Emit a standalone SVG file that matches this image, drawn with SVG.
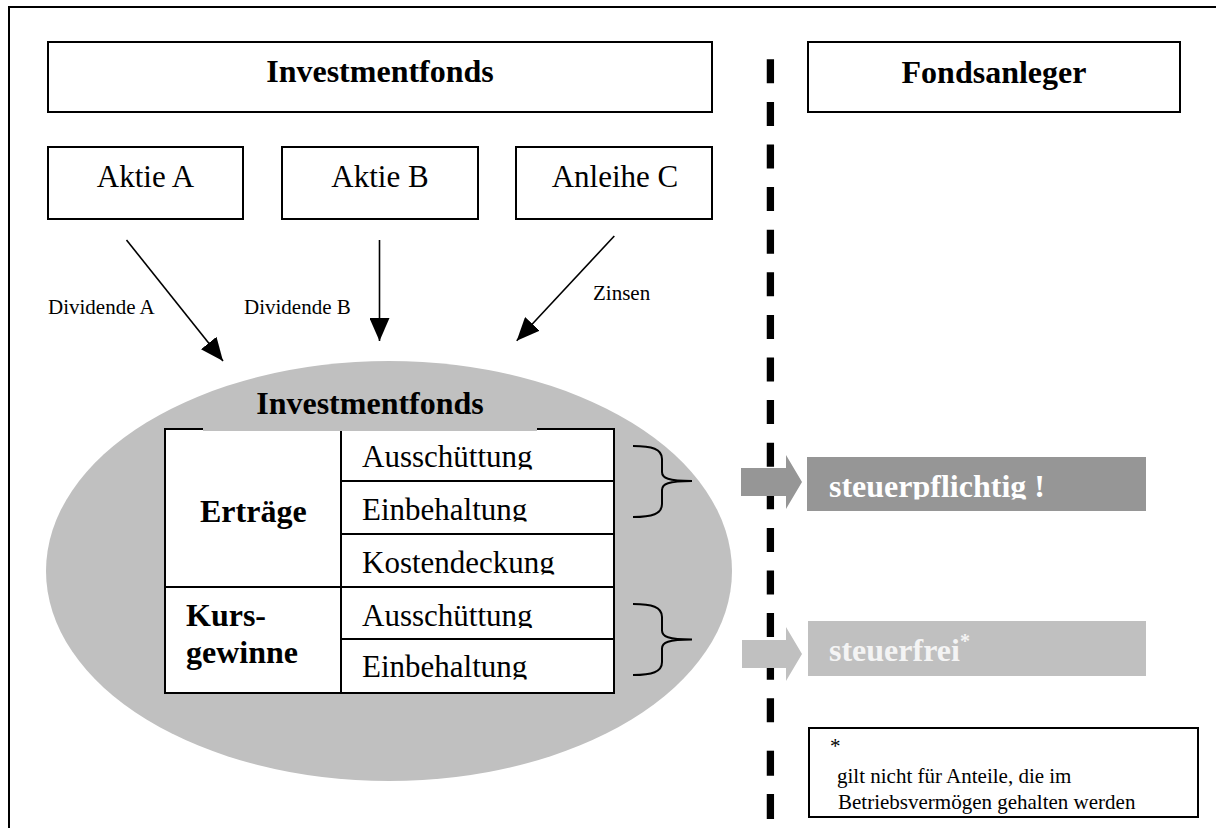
<svg xmlns="http://www.w3.org/2000/svg" width="1216" height="828" viewBox="0 0 1216 828">
<style>
  .box { fill: #ffffff; stroke: #000000; stroke-width: 2; }
  .hd { font-family: "Liberation Serif", "Times New Roman", serif; font-weight: bold; font-size: 32px; fill: #000000; }
  .nm { font-family: "Liberation Serif", "Times New Roman", serif; font-size: 31px; fill: #000000; }
  .sm { font-family: "Liberation Serif", "Times New Roman", serif; font-size: 21px; fill: #000000; }
  .fn { font-family: "Liberation Serif", "Times New Roman", serif; font-size: 21px; fill: #000000; }
  .ln { stroke: #000000; stroke-width: 2; fill: none; }
  .conn { stroke: #000000; stroke-width: 1.6; fill: none; }
  .dash { stroke: #000000; stroke-width: 7.3; fill: none; }
  .brace { stroke: #000000; stroke-width: 2; fill: none; }
</style>
<defs>
  <marker id="ah" markerUnits="userSpaceOnUse" markerWidth="24" markerHeight="20" refX="23" refY="10" orient="auto">
    <path d="M0,0 L23,10 L0,20 z" fill="#000000"/>
  </marker>
  <clipPath id="c1"><rect x="340" y="430" width="272" height="39.5"/></clipPath>
  <clipPath id="c2"><rect x="340" y="482" width="272" height="39.5"/></clipPath>
  <clipPath id="c3"><rect x="340" y="535" width="272" height="39.5"/></clipPath>
  <clipPath id="c4"><rect x="340" y="588" width="272" height="40"/></clipPath>
  <clipPath id="c5"><rect x="340" y="640" width="272" height="39.5"/></clipPath>
  <clipPath id="c6"><rect x="807" y="457" width="339" height="42.5"/></clipPath>
</defs>
<rect x="0" y="0" width="1216" height="828" fill="#ffffff"/>
<path class="ln" d="M9,832 L9,7 L1222,7"/>

<g id="divider">
  <line class="dash" x1="770.4" y1="59.3" x2="770.4" y2="722.3" stroke-dasharray="24 18.6"/>
  <line class="dash" x1="770.4" y1="750.7" x2="770.4" y2="830" stroke-dasharray="25 18.3"/>
</g>

<g id="investmentfonds-header">
  <rect class="box" x="48" y="42" width="664" height="70"/>
  <text class="hd" x="380" y="82" text-anchor="middle">Investmentfonds</text>
</g>
<g id="fondsanleger-header">
  <rect class="box" x="808" y="42" width="372" height="70"/>
  <text class="hd" x="994" y="83" text-anchor="middle">Fondsanleger</text>
</g>

<g id="aktie-a">
  <rect class="box" x="48" y="147" width="195" height="72"/>
  <text class="nm" x="145.5" y="187" text-anchor="middle">Aktie A</text>
</g>
<g id="aktie-b">
  <rect class="box" x="282" y="147" width="196" height="72"/>
  <text class="nm" x="380" y="187" text-anchor="middle">Aktie B</text>
</g>
<g id="anleihe-c">
  <rect class="box" x="516" y="147" width="196" height="72"/>
  <text class="nm" x="615" y="187" text-anchor="middle">Anleihe C</text>
</g>

<g id="fonds">
  <ellipse cx="389" cy="571" rx="343" ry="210" fill="#c0c0c0"/>
  <rect x="165" y="429" width="449" height="264" fill="#ffffff" stroke="#000000" stroke-width="2"/>
  <line class="ln" x1="341" y1="429" x2="341" y2="693"/>
  <line class="ln" x1="341" y1="481" x2="614" y2="481"/>
  <line class="ln" x1="341" y1="534" x2="614" y2="534"/>
  <line class="ln" x1="165" y1="587" x2="614" y2="587"/>
  <line class="ln" x1="341" y1="639" x2="614" y2="639"/>
  <rect x="203" y="425" width="334" height="6" fill="#c0c0c0"/>
  <text class="hd" x="370" y="414" text-anchor="middle">Investmentfonds</text>
  <text class="hd" x="200" y="522">Erträge</text>
  <text class="hd" x="186" y="626">Kurs-</text>
  <text class="hd" x="186" y="663">gewinne</text>
  <text class="nm" x="362" y="467" clip-path="url(#c1)">Ausschüttung</text>
  <text class="nm" x="362" y="519.5" clip-path="url(#c2)">Einbehaltung</text>
  <text class="nm" x="362" y="572.5" clip-path="url(#c3)">Kostendeckung</text>
  <text class="nm" x="362" y="626" clip-path="url(#c4)">Ausschüttung</text>
  <text class="nm" x="362" y="677" clip-path="url(#c5)">Einbehaltung</text>
</g>

<g id="connectors">
  <line class="conn" x1="126.5" y1="240" x2="223" y2="361" marker-end="url(#ah)"/>
  <line class="conn" x1="379.5" y1="240" x2="379.5" y2="341" marker-end="url(#ah)"/>
  <line class="conn" x1="614.3" y1="236" x2="516.7" y2="340.7" marker-end="url(#ah)"/>
  <text class="sm" x="48" y="314">Dividende A</text>
  <text class="sm" x="244" y="314">Dividende B</text>
  <text class="sm" x="593" y="300">Zinsen</text>
  <path class="brace" d="M633,446 C652,446 662,449 662,459 L662,472 C662,478 668,481 692,481 M633,517 C652,517 662,514 662,504 L662,490 C662,484 668,481 692,481"/>
  <path class="brace" d="M633,604 C652,604 662,607 662,617 L662,630.5 C662,636.5 668,639.5 692,639.5 M633,675 C652,675 662,672 662,662 L662,648.5 C662,642.5 668,639.5 692,639.5"/>
  <polygon points="741,468 786,468 786,455 802,482 786,509 786,496 741,496" fill="#969696"/>
  <polygon points="742,640 786,640 786,627 802,654 786,681 786,668 742,668" fill="#c0c0c0"/>
</g>

<g id="steuerpflichtig">
  <rect x="807" y="457" width="339" height="54" fill="#969696"/>
  <text class="hd" x="829" y="497" style="fill:#ffffff" clip-path="url(#c6)">steuerpflichtig !</text>
</g>
<g id="steuerfrei">
  <rect x="808" y="621" width="338" height="55" fill="#c0c0c0"/>
  <text class="hd" x="829" y="661" style="fill:#f4f4f4">steuerfrei<tspan font-size="20" dy="-13">*</tspan></text>
</g>

<g id="footnote">
  <rect class="box" x="809" y="728" width="389" height="89"/>
  <text class="fn" x="830" y="753" font-size="17">*</text>
  <text class="fn" x="837" y="783" font-size="21">gilt nicht für Anteile, die im</text>
  <text class="fn" x="838" y="809" font-size="22.5">Betriebsvermögen gehalten werden</text>
</g>
</svg>
